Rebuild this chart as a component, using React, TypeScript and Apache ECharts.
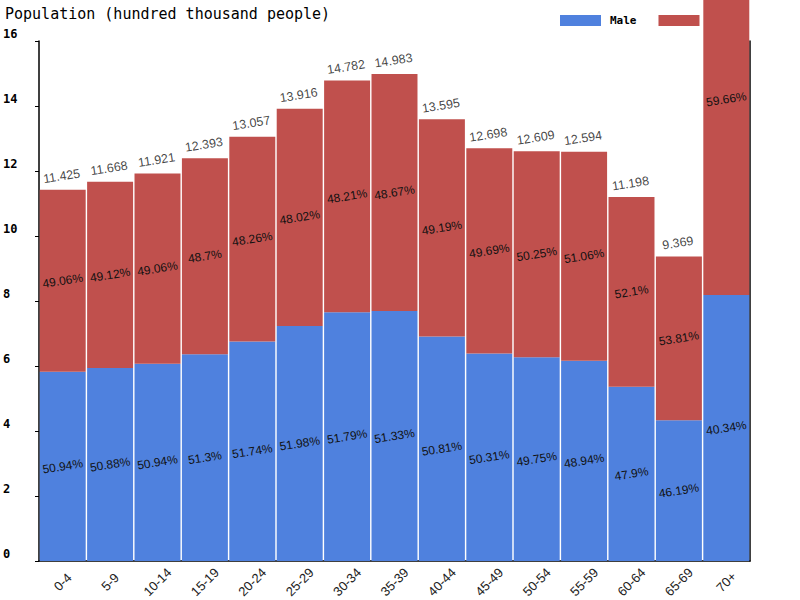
import React, { useEffect, useRef } from "react";
import * as echarts from "echarts";

const categories = ["0-4", "5-9", "10-14", "15-19", "20-24", "25-29", "30-34", "35-39", "40-44", "45-49", "50-54", "55-59", "60-64", "65-69", "70+"];
const totals = [11.425, 11.668, 11.921, 12.393, 13.057, 13.916, 14.782, 14.983, 13.595, 12.698, 12.609, 12.594, 11.198, 9.369, 20.23];
const maleValues = [5.82, 5.937, 6.073, 6.358, 6.756, 7.234, 7.656, 7.691, 6.908, 6.388, 6.273, 6.164, 5.364, 4.328, 8.185];
const femaleValues = [5.605, 5.731, 5.848, 6.035, 6.301, 6.682, 7.126, 7.292, 6.687, 6.31, 6.336, 6.43, 5.834, 5.041, 12.045];
const malePct = ["50.94", "50.88", "50.94", "51.3", "51.74", "51.98", "51.79", "51.33", "50.81", "50.31", "49.75", "48.94", "47.9", "46.19", "40.34"];
const femalePct = ["49.06", "49.12", "49.06", "48.7", "48.26", "48.02", "48.21", "48.67", "49.19", "49.69", "50.25", "51.06", "52.1", "53.81", "59.66"];
const Y_MAX = 16;

const MONO = "'DejaVu Sans Mono', 'Liberation Mono', monospace";
const SANS = "'Liberation Sans', Arial, sans-serif";

export default function App() {
  const ref = useRef<HTMLDivElement>(null);
  useEffect(() => {
    if (!ref.current) return;
    const chart = echarts.init(ref.current, null, { renderer: "svg" });
    const pctLabel = (arr: string[]) => ({
      show: true,
      position: "inside",
      rotate: 9,
      fontFamily: SANS,
      fontSize: 12,
      color: "#111",
      formatter: (p: any) => arr[p.dataIndex] + "%",
    });
    chart.setOption({
      animation: false,
      title: {
        text: "Population (hundred thousand people)",
        left: 0,
        top: 1,
        textStyle: { fontFamily: MONO, fontSize: 15, fontWeight: "normal", color: "#000" },
      },
      legend: {
        left: 555,
        top: 10,
        itemWidth: 41,
        itemHeight: 11,
        itemGap: 22,
        icon: "rect",
        z: 1,
        textStyle: { fontFamily: MONO, fontSize: 11, fontWeight: "bold", color: "#000", padding: [0, 0, 0, 4] },
        data: ["Male", "Female"],
      },
      grid: { left: 39, right: 50, top: 41, bottom: 39, containLabel: false, outerBoundsMode: "none" },
      xAxis: {
        type: "category",
        data: categories,
        axisLine: { show: true, lineStyle: { color: "#000", width: 1.5 } },
        axisTick: { show: false },
        axisLabel: {
          rotate: 45,
          fontFamily: SANS,
          fontSize: 13,
          color: "#222",
          margin: 21,
          interval: 0,
          align: "center",
          verticalAlign: "middle",
        },
      },
      yAxis: [
        {
          type: "value",
          min: 0,
          max: Y_MAX,
          interval: 2,
          axisLine: { show: true, lineStyle: { color: "#000", width: 1.5 } },
          axisTick: { show: true, length: 4, lineStyle: { color: "#000" } },
          splitLine: { show: false },
          axisLabel: {
            fontFamily: MONO,
            fontWeight: "bold",
            fontSize: 12,
            color: "#000",
            align: "left",
            margin: 36,
            verticalAlign: "bottom",
            lineHeight: 14,
          },
        },
        {
          type: "value",
          position: "right",
          min: 0,
          max: Y_MAX,
          interval: 2,
          axisLine: { show: true, lineStyle: { color: "#000", width: 1.5 } },
          axisTick: { show: false },
          axisLabel: { show: false },
          splitLine: { show: false },
        },
      ],
      series: [
        {
          name: "Male",
          type: "bar",
          stack: "pop",
          data: maleValues,
          barCategoryGap: "3%",
          clip: false,
          z: 5,
          itemStyle: { color: "#4F81DE" },
          label: pctLabel(malePct),
        },
        {
          name: "Female",
          type: "bar",
          stack: "pop",
          data: femaleValues,
          barCategoryGap: "3%",
          clip: false,
          z: 5,
          itemStyle: { color: "#C0504D" },
          label: pctLabel(femalePct),
        },
        {
          name: "total",
          type: "scatter",
          data: totals,
          symbolSize: 0,
          clip: true,
          z: 6,
          silent: true,
          label: {
            show: true,
            position: "top",
            distance: 7,
            rotate: 9,
            fontFamily: SANS,
            fontSize: 12.5,
            color: "#111",
            formatter: (p: any) => (totals[p.dataIndex] > Y_MAX ? "" : String(totals[p.dataIndex])),
          },
        },
      ],
    });
    return () => chart.dispose();
  }, []);
  return <div ref={ref} style={{ width: 800, height: 600, position: "absolute", left: 0, top: 0 }} />;
}
